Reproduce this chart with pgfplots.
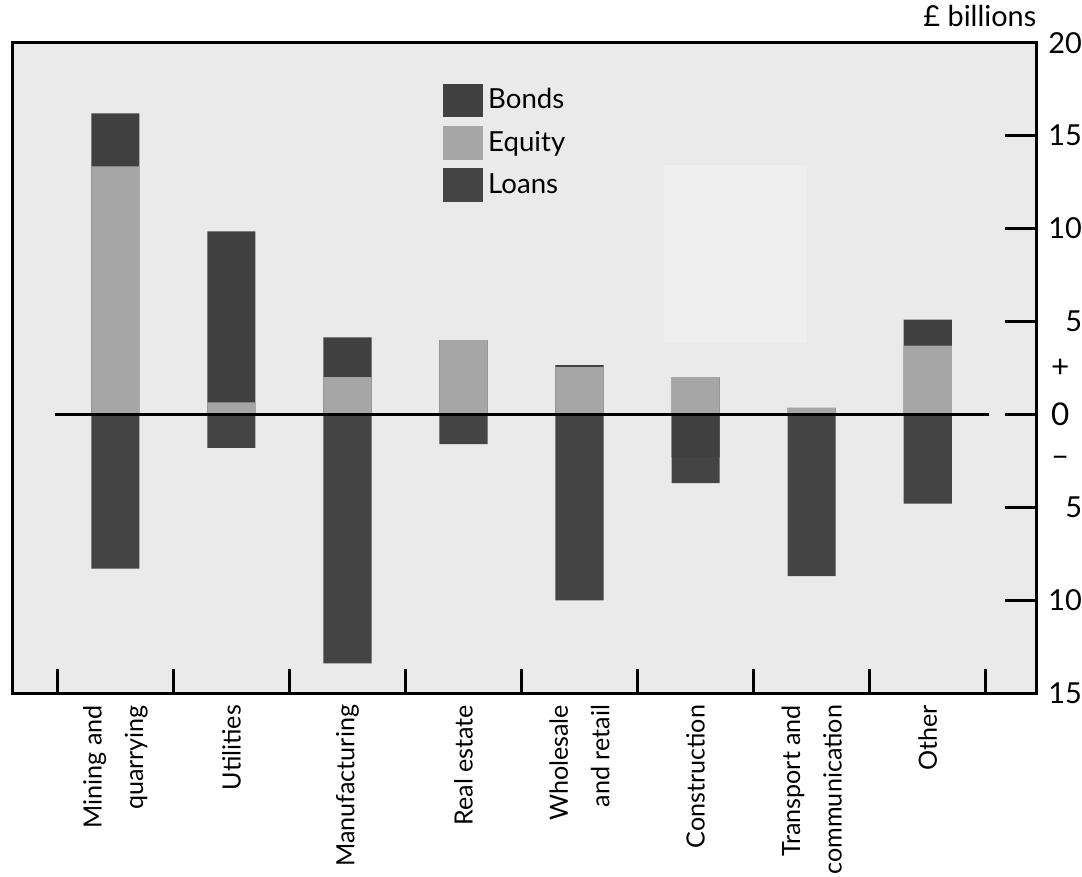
\documentclass[border=0pt]{standalone}
\usepackage{pgfplots}
\usepackage{pgfplotstable}
\pgfplotsset{compat=1.18}
\usepackage{fontspec}
\setmainfont{Lato}
\definecolor{bg}{HTML}{EAEAEA}
\definecolor{bondc}{HTML}{404040}
\definecolor{eqc}{HTML}{A6A6A6}
\definecolor{loanc}{HTML}{444444}
\definecolor{patch}{HTML}{EFEFEF}
\pgfplotstableread{
x equity bonds loans bondsneg
0 13.35 2.85 -8.3 0
1 0.65 9.2 -1.8 0
2 2.0 2.15 -13.4 0
3 4.0 0 -1.6 0
4 2.55 0.1 -10.0 0
5 2.0 0 -1.4 -2.3
6 0.35 0 -8.7 0
7 3.7 1.4 -4.8 0
}\data
\begin{document}
\begin{tikzpicture}
\begin{axis}[
  scale only axis,
  width=408pt, height=259pt,
  xmin=-0.89, xmax=7.94,
  ymin=-15, ymax=20,
  axis background/.style={fill=bg},
  axis line style={line width=1.2pt},
  font=\fontsize{11.5}{13}\selectfont,
  ybar, bar width=0.415, bar shift=0pt,
  xtick={0,...,7},
  xticklabels={Mining and\\quarrying, Utilities, Manufacturing, Real estate, Wholesale\\and retail, Construction, Transport and\\communication, Other},
  xticklabel style={rotate=90, anchor=east, align=right, inner sep=1pt,
    font=\fontsize{10}{16.5}\selectfont},
  xticklabel shift=3.5pt,
  major x tick style={draw=none},
  minor xtick={-0.5,0.5,...,7.5},
  minor x tick style={line width=1.2pt, black},
  minor tick length=9.6pt,
  xtick pos=bottom,
  tick align=inside,
  ytick={-15,-10,-5,0,5,10,15,20},
  yticklabels={15,10,5,{},5,10,15,20},
  extra y ticks={2.5,0,-2.5},
  extra y tick labels={+,0,\textendash},
  extra y tick style={major tick length=0pt, yticklabel style={xshift=-5pt, font=\fontsize{12.5}{13}\selectfont}},
  ytick pos=right,
  yticklabel pos=right,
  major tick length=12.5pt,
  major y tick style={line width=1.2pt, black},
  yticklabel style={anchor=east, inner sep=0pt, xshift=18.2pt},
  legend style={at={(0.42,0.938)}, anchor=north west, draw=none, fill=none,
    font=\fontsize{11}{13}\selectfont, row sep=3.3pt, inner sep=0pt,
    legend cell align=left},
  legend image code/.code={\fill[#1] (-4.4pt,-6.6pt) rectangle (11.6pt,6.6pt);},
  clip=false,
]
\fill[patch] (axis cs:4.73,3.9) rectangle (axis cs:5.96,13.4);
\addplot[fill=bondc, draw=none] table[x=x, y expr=\thisrow{equity}+\thisrow{bonds}] {\data};
\addlegendentry{Bonds}
\addplot[fill=eqc, draw=none] table[x=x, y=equity] {\data};
\addlegendentry{Equity}
\addplot[fill=loanc, draw=none] table[x=x, y expr=\thisrow{loans}+\thisrow{bondsneg}] {\data};
\addlegendentry{Loans}
\addplot[fill=bondc, draw=none, forget plot] table[x=x, y=bondsneg] {\data};
\addplot[sharp plot, black, line width=1.2pt, forget plot] coordinates {(-0.52,0) (7.53,0)};
\node[anchor=south east, inner sep=0pt, font=\fontsize{11.5}{13}\selectfont] at ([yshift=6pt]rel axis cs:1,1) {£ billions};
\path ([xshift=-4.8pt,yshift=17pt]rel axis cs:0,1) -- ([xshift=-4.8pt]rel axis cs:0,0);
\end{axis}
\end{tikzpicture}
\end{document}
